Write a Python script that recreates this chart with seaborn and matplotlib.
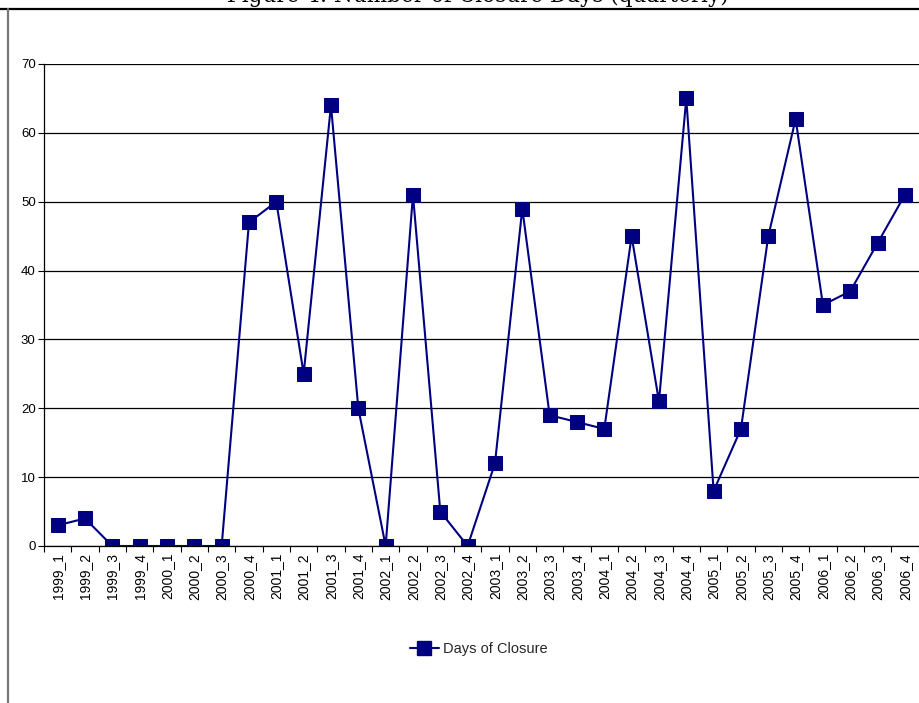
import numpy as np
import pandas as pd
import matplotlib
matplotlib.use("Agg")
import matplotlib.pyplot as plt
from matplotlib.lines import Line2D
from matplotlib.ticker import FixedLocator
import seaborn as sns

quarters = [
    "1999_1", "1999_2", "1999_3", "1999_4",
    "2000_1", "2000_2", "2000_3", "2000_4",
    "2001_1", "2001_2", "2001_3", "2001_4",
    "2002_1", "2002_2", "2002_3", "2002_4",
    "2003_1", "2003_2", "2003_3", "2003_4",
    "2004_1", "2004_2", "2004_3", "2004_4",
    "2005_1", "2005_2", "2005_3", "2005_4",
    "2006_1", "2006_2", "2006_3", "2006_4",
]
closure_days = [
    3, 4, 0, 0,
    0, 0, 0, 47,
    50, 25, 64, 20,
    0, 51, 5, 0,
    12, 49, 19, 18,
    17, 45, 21, 65,
    8, 17, 45, 62,
    35, 37, 44, 51,
]
y_ticks = [0, 10, 20, 30, 40, 50, 60, 70]
series_name = "Days of Closure"
title_text = "Figure 4: Number of Closure Days (quarterly)"

sns.set_theme(style="white")
plt.rcParams["font.family"] = ["Liberation Sans", "DejaVu Sans"]

df = pd.DataFrame({"quarter": quarters, series_name: closure_days})
df["pos"] = np.arange(len(quarters))

W, H = 920, 703
fig = plt.figure(figsize=(W / 100, H / 100), dpi=100)
fig.patch.set_facecolor("white")

left, right, top, bottom = 44, 918.6, 64, 546
ax = fig.add_axes([left / W, 1 - bottom / H, (right - left) / W, (bottom - top) / H])

navy = "#000080"
sns.lineplot(data=df, x="pos", y=series_name, ax=ax, color=navy, linewidth=1.5,
             marker="s", markersize=10, markeredgecolor=navy, markerfacecolor=navy,
             label=series_name, legend=False)

ax.set_xlim(-0.5, len(quarters) - 0.5)
ax.set_ylim(0, 70)
ax.set_yticks(y_ticks)
ax.set_yticklabels([str(v) for v in y_ticks], fontsize=9.5, color="black")
ax.set_xticks(df["pos"])
ax.set_xticklabels(quarters, rotation=90, fontsize=10, color="black")
ax.xaxis.set_minor_locator(FixedLocator(np.arange(-0.5, len(quarters), 1.0)))
ax.tick_params(axis="x", which="major", length=0, pad=5)
ax.tick_params(axis="x", which="minor", length=4, width=0.8, color="black", direction="out", bottom=True)
ax.tick_params(axis="y", which="major", length=4, width=0.8, color="black", direction="out", left=True, pad=2)
ax.set_xlabel("")
ax.set_ylabel("")

ax.grid(axis="y", color="black", linewidth=0.9)
ax.grid(axis="x", visible=False)
ax.set_axisbelow(True)
for side in ("top", "right"):
    ax.spines[side].set_visible(False)
for side in ("left", "bottom"):
    ax.spines[side].set_color("black")
    ax.spines[side].set_linewidth(0.9)

handle = Line2D([], [], color=navy, linewidth=1.5, marker="s", markersize=10,
                markerfacecolor=navy, markeredgecolor=navy)
fig.legend([handle], [series_name], loc="center", bbox_to_anchor=(479 / W, 1 - 649 / H),
           frameon=False, fontsize=10.5, handlelength=2.0, handletextpad=0.3)

# outer chart frame
fig.add_artist(Line2D([0, 1], [1 - 9 / H, 1 - 9 / H], transform=fig.transFigure,
                      color="black", linewidth=1.6))
fig.add_artist(Line2D([8 / W, 8 / W], [0, 1 - 9 / H], transform=fig.transFigure,
                      color="#777777", linewidth=1.6))

# chart title sits above the frame, partly beyond the top edge of the image
fig.text(478 / W, 1 - 2 / H, title_text, ha="center", va="baseline",
         fontsize=15.5, family=["DejaVu Serif"], color="black")

fig.savefig("out.png", dpi=100, facecolor="white")
